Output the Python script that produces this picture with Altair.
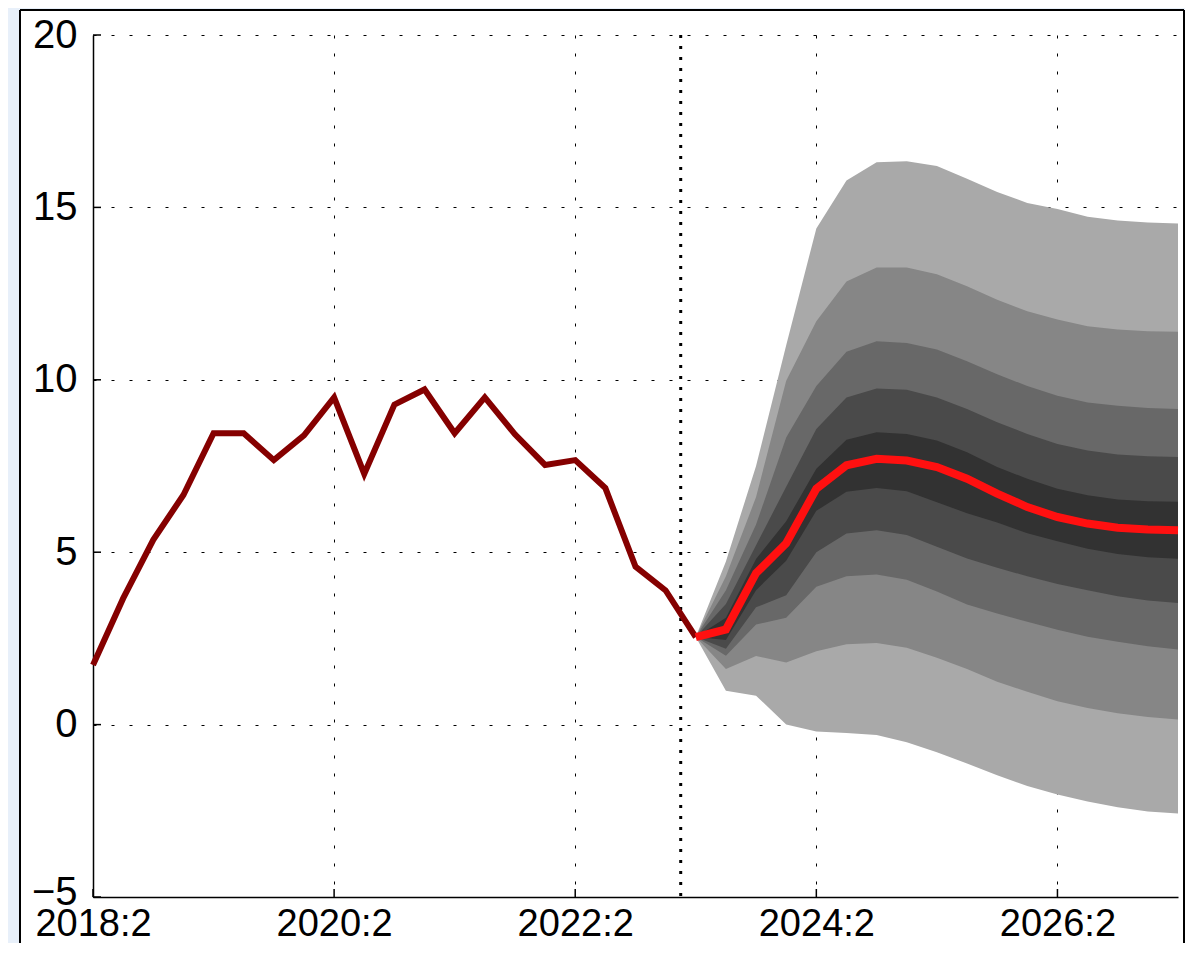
import json
import altair as alt
import pandas as pd

# ---------------- data ----------------
x_tick_pos = [0, 8, 16, 24, 32]
x_tick_labels = ["2018:2", "2020:2", "2022:2", "2024:2", "2026:2"]
y_ticks = [-5, 0, 5, 10, 15, 20]

# quarter index counted from 2018:2
hist_q = list(range(0, 21))
hist_values = [1.73, 3.66, 5.36, 6.66, 8.45, 8.45, 7.67, 8.39, 9.49, 7.27,
               9.28, 9.72, 8.45, 9.49, 8.42, 7.53, 7.67, 6.86, 4.58, 3.89, 2.54]

fc_q = list(range(20, 37))
fc_center = [2.54, 2.76, 4.39, 5.26, 6.84, 7.52, 7.71, 7.66, 7.47, 7.13, 6.70, 6.31, 6.02, 5.83, 5.71, 5.66, 5.64]
fc_hi1 = [2.54, 4.73, 7.50, 11.00, 14.39, 15.78, 16.31, 16.34, 16.20, 15.83, 15.45, 15.13, 14.95, 14.73, 14.62, 14.56, 14.53]
fc_hi2 = [2.54, 4.30, 6.60, 9.97, 11.70, 12.85, 13.26, 13.26, 13.06, 12.71, 12.32, 11.99, 11.75, 11.55, 11.46, 11.41, 11.39]
fc_hi3 = [2.54, 3.90, 5.80, 8.33, 9.82, 10.81, 11.12, 11.07, 10.88, 10.54, 10.16, 9.82, 9.54, 9.34, 9.25, 9.18, 9.15]
fc_hi4 = [2.54, 3.50, 5.20, 6.90, 8.57, 9.49, 9.75, 9.71, 9.49, 9.15, 8.77, 8.43, 8.14, 7.95, 7.83, 7.78, 7.76]
fc_hi5 = [2.54, 3.10, 4.80, 5.90, 7.42, 8.26, 8.48, 8.43, 8.24, 7.90, 7.47, 7.13, 6.84, 6.65, 6.53, 6.48, 6.46]
fc_lo5 = [2.54, 2.45, 3.90, 4.75, 6.20, 6.75, 6.86, 6.77, 6.45, 6.13, 5.86, 5.55, 5.32, 5.10, 4.95, 4.85, 4.81]
fc_lo4 = [2.54, 2.20, 3.40, 3.75, 5.00, 5.54, 5.64, 5.50, 5.16, 4.82, 4.55, 4.30, 4.08, 3.90, 3.72, 3.60, 3.53]
fc_lo3 = [2.54, 2.00, 2.90, 3.10, 4.00, 4.30, 4.35, 4.20, 3.86, 3.48, 3.22, 2.98, 2.75, 2.55, 2.40, 2.27, 2.18]
fc_lo2 = [2.54, 1.61, 1.99, 1.80, 2.13, 2.33, 2.37, 2.23, 1.94, 1.61, 1.24, 0.95, 0.68, 0.48, 0.33, 0.22, 0.15]
fc_lo1 = [2.54, 0.98, 0.84, 0.00, -0.20, -0.24, -0.30, -0.51, -0.80, -1.13, -1.47, -1.78, -2.03, -2.23, -2.40, -2.52, -2.58]

forecast_start = [19.5]

band_colors = ["#a9a9a9", "#868686", "#686868", "#4a4a4a", "#323232"]

# ---------------- tables ----------------
hist_df = pd.DataFrame({"q": hist_q, "v": hist_values})
fc_df = pd.DataFrame({
    "q": fc_q, "c": fc_center,
    "hi1": fc_hi1, "hi2": fc_hi2, "hi3": fc_hi3, "hi4": fc_hi4, "hi5": fc_hi5,
    "lo1": fc_lo1, "lo2": fc_lo2, "lo3": fc_lo3, "lo4": fc_lo4, "lo5": fc_lo5,
})

W, H = 1085, 862
PB = 46
FONT = "Liberation Sans"

xscale = alt.Scale(domain=[0, 36], nice=False, zero=False)
yscale = alt.Scale(domain=[-5, 20], nice=False, zero=False)

label_expr = json.dumps(x_tick_labels) + "[round(datum.value/8)]"

x_axis = alt.Axis(values=x_tick_pos, labelExpr=label_expr, title=None,
                  grid=True, gridColor="black", gridDash=[3, 15], gridWidth=1, gridOpacity=1,
                  domainColor="black", domainWidth=1.5, ticks=False, tickSize=0,
                  labelFont=FONT, labelFontSize=38, labelColor="black",
                  labelPadding=8, labelFlush=False, labelOverlap=False)
y_axis = alt.Axis(values=y_ticks, title=None,
                  grid=True, gridColor="black", gridDash=[3, 15], gridWidth=1, gridOpacity=1,
                  domainColor="black", domainWidth=1.5, ticks=False, tickSize=0,
                  labelFont=FONT, labelFontSize=40, labelColor="black",
                  labelOffset={"condition": {"test": "datum.value == -5", "value": -5}, "value": 0},
                  labelPadding=16, labelFlush=False, labelOverlap=False)

one = alt.Data(values=[{"k": 1}])

# background decoration (slide strip + figure frame), outside plot area
strip_left = alt.Chart(one).mark_rect(color="#e8f0fa").encode(
    x=alt.value(-85), x2=alt.value(-73), y=alt.value(-27), y2=alt.value(H + PB))
strip_top = alt.Chart(one).mark_rect(color="#e8f0fa").encode(
    x=alt.value(-85), x2=alt.value(W + 7), y=alt.value(-27), y2=alt.value(-25))
frame_left = alt.Chart(one).mark_rule(color="black", strokeWidth=2).encode(
    x=alt.value(-73), y=alt.value(-25), y2=alt.value(H + PB))
frame_top = alt.Chart(one).mark_rule(color="black", strokeWidth=2).encode(
    x=alt.value(-73), x2=alt.value(W + 6), y=alt.value(-25))
frame_right = alt.Chart(one).mark_rule(color="black", strokeWidth=2).encode(
    x=alt.value(W + 6), y=alt.value(-25), y2=alt.value(H + PB))

fc_base = alt.Chart(fc_df)
bands = []
for k, col in zip(range(1, 6), band_colors):
    bands.append(
        fc_base.mark_area(color=col, opacity=1).encode(
            x=alt.X("q:Q", scale=xscale, axis=x_axis),
            y=alt.Y(f"lo{k}:Q", scale=yscale, axis=y_axis),
            y2=f"hi{k}:Q",
        )
    )

vline = alt.Chart(pd.DataFrame({"q": forecast_start})).mark_rule(
    color="black", strokeWidth=3, strokeDash=[3, 8]).encode(
    x=alt.X("q:Q", scale=xscale), y=alt.value(0), y2=alt.value(H))

hist_line = alt.Chart(hist_df).mark_line(color="#850000", strokeWidth=6).encode(
    x=alt.X("q:Q", scale=xscale, axis=x_axis),
    y=alt.Y("v:Q", scale=yscale, axis=y_axis))

fc_line = fc_base.mark_line(color="#ff1010", strokeWidth=8).encode(
    x=alt.X("q:Q", scale=xscale), y=alt.Y("c:Q", scale=yscale))

ytick_marks = alt.Chart(pd.DataFrame({"y": y_ticks})).mark_rule(color="black", strokeWidth=1.5).encode(
    y=alt.Y("y:Q", scale=yscale), x=alt.value(0), x2=alt.value(8))
xtick_marks = alt.Chart(pd.DataFrame({"q": x_tick_pos})).mark_rule(color="black", strokeWidth=1.5).encode(
    x=alt.X("q:Q", scale=xscale), y=alt.value(H), y2=alt.value(H - 8))

chart = alt.layer(
    strip_left, strip_top, frame_left, frame_top, frame_right,
    *bands, vline, hist_line, fc_line, ytick_marks, xtick_marks
).properties(
    width=W, height=H,
    padding={"left": 85, "top": 27, "right": 7, "bottom": PB},
    autosize=alt.AutoSizeParams(type="none"),
    background="white",
).configure_view(stroke=None)

chart.save("out.html", embed_options={"renderer": "svg", "actions": False})
